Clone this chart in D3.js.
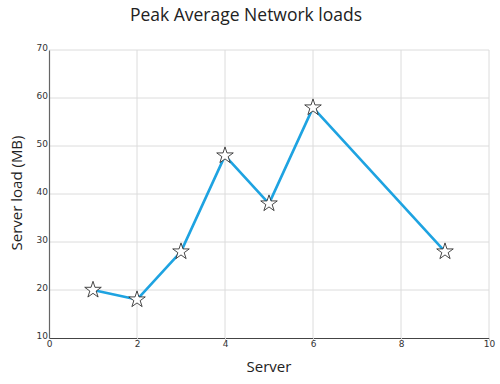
<!DOCTYPE html>
<html>
<head>
<meta charset="utf-8">
<script src="https://cdn.jsdelivr.net/npm/d3@7"></script>
<style>
  html, body { margin: 0; padding: 0; background: #fff; }
  svg { display: block; }
</style>
</head>
<body>
<div id="chart"></div>
<script>
// chart data
const servers = [1, 2, 3, 4, 5, 6, 9]
const loads = [20, 18, 28, 48, 38, 58, 28]
const xTicks = [0, 2, 4, 6, 8, 10]
const yTicks = [10, 20, 30, 40, 50, 60, 70]

const width = 500
const height = 384
const margin = { top: 50, right: 11, bottom: 46, left: 49 }

const svg = d3.select('#chart')
  .append('svg')
  .attr('width', width)
  .attr('height', height)

const x = d3.scaleLinear().domain([0, 10]).range([margin.left, width - margin.right])
const y = d3.scaleLinear().domain([10, 70]).range([height - margin.bottom, margin.top])

// grid
svg.append('g')
  .selectAll('line')
  .data(yTicks.slice(1))
  .join('line')
  .attr('x1', x(0)).attr('x2', x(10))
  .attr('y1', d => y(d)).attr('y2', d => y(d))
  .attr('stroke', '#dcdcdc')
  .attr('stroke-width', 1)

svg.append('g')
  .selectAll('line')
  .data(xTicks.slice(1))
  .join('line')
  .attr('x1', d => x(d)).attr('x2', d => x(d))
  .attr('y1', y(10)).attr('y2', y(70))
  .attr('stroke', '#dcdcdc')
  .attr('stroke-width', 1)

// axes
const xAxis = svg.append('g')
  .attr('transform', `translate(0,${y(10)})`)
  .call(d3.axisBottom(x).tickValues(xTicks).tickSize(3).tickSizeOuter(0))
const yAxis = svg.append('g')
  .attr('transform', `translate(${x(0)},0)`)
  .call(d3.axisLeft(y).tickValues(yTicks).tickSize(0).tickSizeOuter(0))

xAxis.select('.domain').attr('stroke', '#444').attr('stroke-width', 1.2)
yAxis.select('.domain').attr('stroke', '#666').attr('stroke-width', 1.2)
xAxis.selectAll('.tick line').attr('stroke', '#ccc')
xAxis.selectAll('.tick line').filter(d => d === 0).remove()

xAxis.selectAll('text')
  .attr('font-family', 'DejaVu Sans, Verdana, sans-serif')
  .attr('font-size', 9)
  .attr('fill', '#333')
  .attr('dy', '0.5em')
  .attr('y', 4)
yAxis.selectAll('text')
  .attr('font-family', 'DejaVu Sans, Verdana, sans-serif')
  .attr('font-size', 9)
  .attr('fill', '#333')
  .attr('x', -1)
  .attr('dy', '0.1em')

// line
const line = d3.line()
  .x((d, i) => x(servers[i]))
  .y(d => y(d))

svg.append('path')
  .datum(loads)
  .attr('fill', 'none')
  .attr('stroke', '#1ea3e1')
  .attr('stroke-width', 2.6)
  .attr('stroke-linejoin', 'round')
  .attr('d', line)

// star markers
const star = d3.symbol().type(d3.symbolStar).size(85)
svg.append('g')
  .selectAll('path')
  .data(loads)
  .join('path')
  .attr('d', star)
  .attr('transform', (d, i) => `translate(${x(servers[i])},${y(d)})`)
  .attr('fill', '#fff')
  .attr('stroke', '#333')
  .attr('stroke-width', 0.9)

// titles
svg.append('text')
  .attr('x', 246)
  .attr('y', 21)
  .attr('text-anchor', 'middle')
  .attr('font-family', 'Open Sans, sans-serif')
  .attr('font-size', 17.5)
  .attr('fill', '#222')
  .text('Peak Average Network loads')

svg.append('text')
  .attr('x', 269)
  .attr('y', 372)
  .attr('text-anchor', 'middle')
  .attr('font-family', 'Open Sans, sans-serif')
  .attr('font-size', 15)
  .attr('fill', '#222')
  .text('Server')

svg.append('text')
  .attr('transform', 'translate(22,193) rotate(-90)')
  .attr('text-anchor', 'middle')
  .attr('font-family', 'Open Sans, sans-serif')
  .attr('font-size', 15)
  .attr('fill', '#222')
  .text('Server load (MB)')
</script>
</body>
</html>
